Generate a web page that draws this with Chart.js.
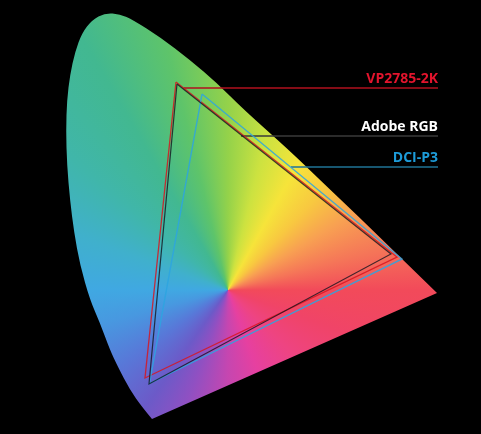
<!DOCTYPE html>
<html><head><meta charset="utf-8">
<script src="https://cdn.jsdelivr.net/npm/chart.js@4.4.1/dist/chart.umd.min.js"></script>
<style>html,body{margin:0;padding:0;background:#000;}canvas{display:block;}</style>
</head><body>
<canvas id="c" width="481" height="434"></canvas>
<script>
// Spectral locus outline (chromaticity x, y)
const locusX = [0.1564,0.1354,0.1103,0.0851,0.0683,0.0474,0.0264,0.0055,-0.0071,-0.0155,-0.0218,-0.0239,-0.0218,-0.0155,-0.0050,0.0096,0.0306,0.0579,0.0893,0.1166,0.1732,0.2361,0.2927,0.3472,0.4457,0.5086,0.5925,0.6763,0.7539];
const locusY = [-0.0145,0.0111,0.0472,0.0962,0.1323,0.1898,0.2387,0.3132,0.3834,0.4515,0.5260,0.6004,0.6643,0.7174,0.7664,0.8068,0.8345,0.8494,0.8472,0.8345,0.7983,0.7494,0.7004,0.6451,0.5557,0.4940,0.4132,0.3302,0.2536];

// Gamut triangles: green, red, blue primaries
const gamutNames = ['VP2785-2K','Adobe RGB','DCI-P3'];
const vpX    = [0.2067,0.6700,0.1417];
const vpY    = [0.7026,0.3302,0.0728];
const adobeX = [0.2088,0.6574,0.1501];
const adobeY = [0.6983,0.3366,0.0600];
const p3X    = [0.2612,0.6805,0.1510];
const p3Y    = [0.6770,0.3260,0.0610];

// Label leader lines
const leaderStartX = [0.2224,0.3430,0.4478];
const leaderEndX   = [0.7560,0.7560,0.7560];
const leaderY      = [0.6898,0.5877,0.5217];

const whitePoint = {x:0.3157, y:0.2600};

const tri = (xs, ys) => { const p = xs.map((x,i)=>({x, y:ys[i]})); p.push(p[0]); return p; };
const pts = (xs, ys) => xs.map((x,i)=>({x, y:ys[i]}));

const lineColors  = ['rgba(215,22,32,0.85)','rgba(20,20,30,0.8)','rgba(45,165,225,0.85)'];
const leaderColors = ['#b0101e','#3a3a3a','#1f7396'];
const textColors  = ['#e3142d','#ffffff','#1d9bd8'];

const locusFill = {
  id:'locusFill',
  beforeDatasetsDraw(chart){
    const P = chart.getDatasetMeta(0).data;
    const ctx = chart.ctx;
    const xs = chart.scales.x, ys = chart.scales.y;
    const cx = xs.getPixelForValue(whitePoint.x), cy = ys.getPixelForValue(whitePoint.y);
    ctx.save();
    ctx.beginPath();
    ctx.moveTo(P[0].x, P[0].y);
    for (let i = 1; i < P.length - 1; i++) {
      const mx = (P[i].x + P[i+1].x) / 2, my = (P[i].y + P[i+1].y) / 2;
      if (i === P.length - 2) ctx.quadraticCurveTo(P[i].x, P[i].y, P[i+1].x, P[i+1].y);
      else ctx.quadraticCurveTo(P[i].x, P[i].y, mx, my);
    }
    ctx.closePath();
    const g = ctx.createConicGradient(0, cx, cy);
    const stops = [[0,'#f24a5a'],[20,'#f04468'],[45,'#ee4482'],[70,'#e640a0'],[90,'#c646b0'],[110,'#9050c2'],[125,'#6c5ac8'],[145,'#5878d8'],[165,'#4898e0'],[180,'#40a8e2'],[200,'#40b0cc'],[220,'#40b6aa'],[240,'#42b890'],[256,'#5ec46a'],[270,'#94d24a'],[284,'#cce240'],[299,'#f6e43a'],[314,'#f8c840'],[329,'#f8a052'],[345,'#f57658'],[360,'#f24a5a']];
    stops.forEach(s=>g.addColorStop(s[0]/360, s[1]));
    ctx.fillStyle = g;
    ctx.fill();
    ctx.restore();
  }
};

const labelPlugin = {
  id:'labels',
  afterDatasetsDraw(chart){
    const ctx = chart.ctx;
    ctx.save();
    ctx.font = 'bold 14px "Open Sans", "Liberation Sans", sans-serif';
    ctx.textAlign = 'right';
    ctx.textBaseline = 'alphabetic';
    gamutNames.forEach((name,i)=>{
      const meta = chart.getDatasetMeta(4+i);
      const end = meta.data[1];
      ctx.fillStyle = textColors[i];
      ctx.fillText(name, end.x, end.y - 5);
    });
    ctx.restore();
  }
};

const datasets = [
  {data: pts(locusX, locusY), showLine:false, pointRadius:0, borderWidth:0},
  {data: tri(adobeX, adobeY), showLine:true, borderColor:lineColors[1], borderWidth:1.2, pointRadius:0},
  {data: tri(p3X, p3Y), showLine:true, borderColor:lineColors[2], borderWidth:1.4, pointRadius:0},
  {data: tri(vpX, vpY), showLine:true, borderColor:lineColors[0], borderWidth:1.3, pointRadius:0},
];
gamutNames.forEach((n,i)=>{
  datasets.push({data:[{x:leaderStartX[i],y:leaderY[i]},{x:leaderEndX[i],y:leaderY[i]}], showLine:true, borderColor:leaderColors[i], borderWidth:1.3, pointRadius:0});
});

new Chart(document.getElementById('c'), {
  type:'scatter',
  data:{datasets},
  options:{
    responsive:false, animation:false, events:[],
    layout:{padding:0},
    scales:{
      x:{type:'linear', min:-0.16226, max:0.84612, display:false},
      y:{type:'linear', min:-0.04638, max:0.87702, display:false}
    },
    plugins:{legend:{display:false}, tooltip:{enabled:false}}
  },
  plugins:[locusFill, labelPlugin]
});
</script>
</body></html>
